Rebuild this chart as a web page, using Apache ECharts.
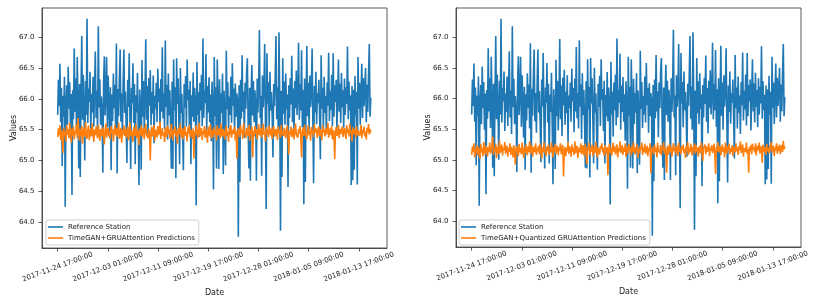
<!DOCTYPE html>
<html>
<head>
<meta charset="utf-8">
<script src="https://cdn.jsdelivr.net/npm/echarts@6/dist/echarts.min.js"></script>
<style>
html,body{margin:0;padding:0;background:#fff;}
#chart{width:831px;height:302px;}
</style>
</head>
<body>
<div id="chart"></div>
<script>
// Sampled every 3 hours starting at 2017-11-24 17:00:00
const STEP_HOURS = 3;
const tickHours = [0, 200, 400, 600, 800, 1000, 1200];
const tickLabels = ['2017-11-24 17:00:00','2017-12-03 01:00:00','2017-12-11 09:00:00','2017-12-19 17:00:00','2017-12-28 01:00:00','2018-01-05 09:00:00','2018-01-13 17:00:00'];
const yTicks = [64.0, 64.5, 65.0, 65.5, 66.0, 66.5, 67.0];
const seriesNames = ['Reference Station', 'TimeGAN+GRUAttention Predictions', 'TimeGAN+Quantized GRUAttention Predictions'];

const referenceStation = [
65.74,66.31,65.88,66.57,65.62,66.18,64.91,66.05,65.71,66.36,
64.25,65.93,66.22,65.58,66.52,65.84,66.27,65.49,66.08,64.44,
66.14,65.67,66.82,65.79,66.33,65.52,66.68,65.91,64.87,66.24,
64.73,66.12,67.02,65.66,66.39,65.83,65.00,66.29,65.74,67.30,
65.61,66.17,65.95,66.44,65.47,66.08,65.78,66.36,65.55,66.21,
66.77,65.69,66.13,65.42,67.18,65.86,66.32,65.58,66.04,65.81,
64.80,66.26,66.69,65.73,66.11,66.68,65.54,66.38,65.92,65.36,
66.19,64.84,66.07,65.64,66.41,65.85,66.23,65.51,66.90,64.79,
66.16,65.72,66.35,66.80,65.63,66.09,65.44,66.27,66.80,65.77,
66.12,65.58,64.96,66.31,65.87,66.74,65.69,64.86,66.18,65.93,
66.58,65.61,66.24,64.94,66.06,65.78,66.42,65.53,64.60,66.15,
65.82,64.85,66.63,65.71,66.29,65.48,66.03,66.97,65.66,66.21,
65.39,66.34,65.89,66.47,65.57,66.11,65.76,66.38,65.28,66.05,
65.84,66.26,65.62,66.49,65.95,66.17,65.45,66.32,65.79,66.84,
65.68,66.09,65.51,66.95,65.87,66.23,65.34,66.41,65.73,66.14,
65.59,64.87,66.28,64.86,66.64,65.82,66.19,64.71,66.66,65.92,
66.33,65.64,64.94,66.50,65.77,66.08,65.41,64.84,66.24,65.86,
66.37,65.55,66.64,65.98,66.15,65.47,66.29,64.94,66.06,65.71,
66.43,65.63,66.18,65.89,64.27,66.60,65.74,66.11,65.38,66.26,
65.81,66.39,65.56,66.98,65.69,66.14,65.93,66.73,65.49,66.21,
65.78,66.35,65.62,66.07,65.31,66.28,65.85,64.53,66.68,65.72,
66.19,64.87,66.64,65.94,64.86,66.32,65.58,66.09,65.77,66.41,
64.78,66.13,65.66,64.92,66.78,65.83,66.27,65.52,66.04,65.74,
66.36,65.61,66.58,65.89,66.17,65.44,66.25,65.71,66.09,65.96,
63.76,66.22,64.65,66.31,65.68,66.71,65.79,66.12,65.37,66.26,
65.84,66.43,66.66,65.57,64.87,66.18,64.67,66.07,66.55,65.73,
66.29,65.62,66.14,65.91,64.67,66.33,65.78,66.21,67.12,65.69,
66.05,64.75,66.38,65.86,66.16,66.89,65.64,64.21,66.74,65.92,
66.27,65.53,66.44,65.81,66.11,65.72,65.05,66.24,65.88,66.35,
67.02,65.67,66.19,65.49,67.08,65.97,63.86,66.13,64.73,66.66,
65.76,66.28,65.58,66.41,65.83,66.07,64.57,66.22,65.69,66.34,
65.91,66.70,65.62,66.17,65.43,66.29,65.85,66.46,65.74,66.09,
66.91,65.66,66.24,65.81,66.79,65.54,66.15,64.29,66.33,64.65,
66.02,66.86,65.72,66.26,65.49,66.38,65.87,66.12,66.82,65.63,
64.63,66.21,65.78,66.44,65.59,66.09,65.93,66.31,65.68,65.02,
66.71,65.84,66.18,65.51,66.36,65.77,66.05,65.42,66.27,65.89,
66.75,65.64,66.13,65.82,66.39,65.56,66.74,65.71,66.22,65.95,
66.31,65.48,66.08,66.64,65.79,66.25,65.61,66.42,65.86,66.14,
65.53,66.33,65.74,66.19,65.92,66.85,65.67,66.28,65.81,66.06,
64.60,66.21,64.68,66.15,64.85,66.37,65.73,66.11,64.61,66.68,
65.84,66.26,65.58,66.09,66.57,65.69,66.34,65.88,66.17,66.50,
65.62,66.23,65.79,66.41,66.89,65.71,66.02
];

const predGRUAttention = [
65.38,65.52,65.41,65.57,65.33,65.49,65.44,65.12,65.53,65.39,
65.47,65.31,65.58,65.42,65.50,65.36,65.61,65.44,65.29,65.52,
65.40,65.55,65.34,65.48,65.43,65.59,65.37,65.69,65.45,65.32,
65.51,65.40,65.56,65.27,65.46,65.53,65.38,65.62,65.42,65.35,
65.49,65.57,65.33,65.45,65.52,65.39,65.60,65.43,65.30,65.50,
65.41,65.55,65.46,65.36,65.58,65.44,65.32,65.51,65.47,65.39,
65.54,65.42,65.26,65.49,65.60,65.37,65.45,65.53,65.40,65.48,
65.34,65.56,65.43,65.50,65.31,65.47,65.58,65.41,65.52,65.38,
65.46,65.61,65.35,65.44,65.53,65.29,65.49,65.42,65.57,65.40,
65.51,65.37,65.47,65.55,65.33,65.45,65.62,65.39,65.48,65.43,
65.30,65.54,65.46,65.40,65.59,65.36,65.50,65.44,65.25,65.52,
65.41,65.57,65.38,65.47,65.53,65.34,65.49,65.60,65.42,65.45,
65.36,65.51,65.43,65.00,65.48,65.55,65.39,65.46,65.58,65.32,
65.50,65.44,65.37,65.56,65.41,65.49,65.63,65.35,65.47,65.52,
65.40,65.45,65.30,65.54,65.48,65.38,65.57,65.43,65.51,65.36,
65.46,65.59,65.41,65.33,65.50,65.44,65.55,65.39,65.48,65.27,
65.53,65.42,65.47,65.60,65.37,65.45,65.52,65.34,65.49,65.56,
65.40,65.46,65.31,65.54,65.43,65.58,65.38,65.50,65.45,65.35,
65.52,65.03,65.47,65.41,65.57,65.44,65.36,65.49,65.61,65.39,
65.46,65.53,65.33,65.48,65.42,65.56,65.37,65.51,65.44,65.29,
65.55,65.40,65.47,65.59,65.35,65.45,65.50,65.38,65.54,65.43,
65.48,65.32,65.57,65.41,65.46,65.52,65.36,65.60,65.44,65.39,
65.51,65.45,65.34,65.49,65.56,65.40,65.47,65.30,65.53,65.42,
65.58,65.37,65.46,65.50,65.43,65.55,65.33,65.48,65.03,65.41,
65.52,65.45,65.38,65.57,65.44,65.49,65.35,65.61,65.42,65.47,
65.36,65.53,65.46,65.40,65.58,65.32,65.50,65.44,65.55,65.05,
65.48,65.39,65.56,65.43,65.51,65.34,65.47,65.59,65.41,65.45,
65.53,65.37,65.49,65.60,65.42,65.46,65.31,65.54,65.44,65.50,
65.38,65.57,65.45,65.41,65.52,65.35,65.48,65.56,65.43,65.39,
65.51,65.46,65.33,65.55,65.44,65.49,65.37,65.58,65.42,65.47,
65.40,65.53,65.45,65.36,65.50,65.57,65.43,65.10,65.48,65.41,
65.55,65.38,65.46,65.52,65.34,65.49,65.60,65.42,65.45,65.37,
65.51,65.44,65.56,65.39,65.05,65.47,65.53,65.40,65.58,65.43,
65.46,65.35,65.50,65.57,65.41,65.48,65.32,65.54,65.44,65.49,
65.38,65.59,65.45,65.42,65.52,65.36,65.47,65.55,65.40,65.51,
65.44,65.33,65.57,65.46,65.50,65.39,65.53,65.43,65.48,65.61,
65.37,65.45,65.52,65.41,65.56,65.34,65.49,65.44,65.02,65.47,
65.54,65.40,65.46,65.58,65.36,65.51,65.43,65.49,65.55,65.38,
65.47,65.53,65.42,65.35,65.57,65.45,65.50,65.39,65.60,65.44,
65.48,65.31,65.54,65.43,65.51,65.46,65.37,65.56,65.41,65.49,
65.52,65.40,65.45,65.58,65.36,65.50,65.44,65.55,65.39,65.47,
65.34,65.53,65.46,65.59,65.42,65.51,65.45
];

const predQuantized = [
65.08,65.22,65.13,65.27,65.04,65.18,65.11,65.24,65.07,65.20,
65.15,65.02,65.26,65.12,65.19,65.06,65.29,65.14,65.09,65.23,
65.17,65.05,65.21,65.13,65.28,65.10,65.16,65.24,65.38,65.08,
65.19,65.14,65.26,65.03,65.18,65.22,65.09,65.31,65.12,65.16,
65.25,65.07,65.20,65.15,65.29,65.10,65.17,65.23,65.05,65.19,
65.13,65.27,65.08,65.21,65.16,65.04,65.24,65.11,64.92,65.18,
65.22,65.14,65.06,65.26,65.12,65.19,65.09,65.28,65.15,65.03,
65.20,65.11,65.25,65.17,65.07,65.22,65.13,65.30,65.10,65.18,
65.24,65.05,65.16,65.21,65.12,65.27,65.08,65.19,65.14,65.23,
65.09,65.26,65.15,65.02,65.20,65.13,65.29,65.11,65.17,65.06,
65.22,65.14,65.25,65.08,65.19,65.12,65.28,65.16,65.04,65.21,
65.13,65.26,65.10,65.18,65.23,65.07,65.20,65.15,65.27,65.09,
65.17,65.24,64.73,65.12,65.21,65.06,65.19,65.14,65.29,65.10,
65.22,65.16,65.05,65.25,65.13,65.19,65.08,65.30,65.11,65.18,
65.23,65.03,65.15,65.20,65.12,65.27,65.09,65.17,65.24,65.07,
65.14,65.26,65.10,64.93,65.21,65.16,65.28,65.08,65.19,65.13,
65.25,65.06,65.18,65.22,65.11,65.29,65.15,65.04,65.20,65.14,
65.09,65.23,65.17,65.27,65.12,65.19,65.06,65.24,65.15,65.10,
65.21,64.75,65.16,65.26,65.11,65.20,65.07,65.18,65.28,65.13,
65.22,65.09,65.17,65.25,65.04,65.19,65.14,65.30,65.11,65.16,
65.24,65.08,65.20,65.13,65.27,65.05,65.18,65.22,65.10,65.26,
65.15,65.19,65.07,65.23,65.12,65.29,65.16,65.09,65.21,65.14,
65.25,65.03,65.18,65.11,65.22,65.17,65.28,65.08,65.20,65.13,
65.26,65.10,65.16,65.23,65.06,65.19,65.14,65.27,64.78,65.12,
65.21,65.17,65.09,65.25,65.13,65.20,65.04,65.28,65.15,65.18,
65.11,65.24,65.07,65.22,65.16,65.29,65.10,65.19,65.13,64.79,
65.23,65.08,65.18,65.26,65.12,65.21,65.05,65.17,65.27,65.14,
65.19,65.10,65.24,65.15,65.06,65.28,65.13,65.20,65.09,65.22,
65.16,65.25,65.11,65.18,65.03,65.23,65.14,65.29,65.08,65.19,
65.12,65.26,65.17,65.07,65.21,65.15,65.27,65.10,65.24,65.13,
65.20,65.05,65.18,65.23,65.11,65.28,65.14,64.98,65.19,65.16,
65.25,65.09,65.22,65.13,65.17,65.27,65.06,65.20,65.15,65.24,
65.11,65.18,65.26,65.08,64.77,65.21,65.14,65.29,65.12,65.19,
65.23,65.07,65.17,65.25,65.13,65.20,65.04,65.28,65.16,65.10,
65.22,65.15,65.26,65.09,65.19,65.13,65.24,65.06,65.21,65.17,
65.12,65.27,65.14,65.20,65.08,65.23,65.16,65.30,65.11,65.18,
65.25,65.05,65.19,65.22,65.13,65.28,65.10,65.17,64.79,65.21,
65.14,65.24,65.09,65.26,65.16,65.20,65.12,65.27,65.07,65.19,
65.23,65.15,65.28,65.10,65.18,65.22,64.95,65.25,65.13,65.17,
65.21,65.08,65.26,65.14,65.19,65.11,65.24,65.16,65.29,65.12,
65.18,65.23,65.06,65.20,65.15,65.27,65.10,65.22,65.14,65.25,
65.09,65.19,65.24,65.13,65.31,65.17,65.22
];

function toPairs(arr) { return arr.map((v, i) => [i * STEP_HOURS, v]); }

const FONT = 'DejaVu Sans';
const TXT = '#222';
const AX = '#333';
const BLUE = '#1f77b4';
const ORANGE = '#ff7f0e';

function xAxisCfg(gi) {
  return {
    type: 'value', gridIndex: gi, min: -62.5, max: 1312.5,
    name: 'Date', nameLocation: 'middle', nameGap: 41, nameMoveOverlap: false,
    nameTextStyle: { fontFamily: FONT, fontSize: 8, color: TXT },
    splitLine: { show: false },
    axisLine: { show: true, onZero: false, lineStyle: { color: AX, width: 0.8 } },
    axisTick: { show: true, length: 3.5, lineStyle: { color: AX, width: 0.8 }, customValues: tickHours },
    axisLabel: {
      customValues: tickHours, rotate: 20, align: 'center', verticalAlign: 'middle', margin: 19,
      fontFamily: FONT, fontSize: 7, color: TXT,
      formatter: v => { const k = tickHours.indexOf(v); return k >= 0 ? tickLabels[k] : ''; }
    }
  };
}
function yAxisCfg(gi) {
  return {
    type: 'value', gridIndex: gi, min: 63.578, max: 67.476,
    name: 'Values', nameLocation: 'middle', nameGap: 24, nameMoveOverlap: false,
    nameTextStyle: { fontFamily: FONT, fontSize: 8, color: TXT },
    splitLine: { show: false },
    axisLine: { show: true, onZero: false, lineStyle: { color: AX, width: 0.8 } },
    axisTick: { show: true, length: 3.5, lineStyle: { color: AX, width: 0.8 }, customValues: yTicks },
    axisLabel: { customValues: yTicks, margin: 7.5, fontFamily: FONT, fontSize: 7, color: TXT, formatter: v => v.toFixed(1) }
  };
}
function lineSeries(name, data, color, gi, z, w) {
  return {
    type: 'line', name: name, xAxisIndex: gi, yAxisIndex: gi,
    data: toPairs(data), symbol: 'none', showSymbol: false, sampling: null,
    lineStyle: { color: color, width: w }, itemStyle: { color: color },
    z: z, animation: false, silent: true
  };
}
function legendCfg(left, names) {
  return {
    data: names.map(n => ({ name: n, icon: 'rect' })), orient: 'vertical', left: left, top: 220,
    itemWidth: 15, itemHeight: 1.6, itemGap: 3,
    padding: [3, 4, 3, 2],
    borderColor: '#d0d0d0', borderWidth: 1, borderRadius: 2,
    backgroundColor: 'rgba(255,255,255,0.8)',
    textStyle: { fontFamily: FONT, fontSize: 7, color: TXT, lineHeight: 8 },
    selectedMode: false
  };
}

const chart = echarts.init(document.getElementById('chart'), null, { renderer: 'canvas' });
chart.setOption({
  animation: false,
  backgroundColor: '#fff',
  grid: [
    { left: 42, top: 8, width: 345, height: 240, show: true, borderColor: AX, borderWidth: 0.8, containLabel: false },
    { left: 456, top: 8, width: 345, height: 239, show: true, borderColor: AX, borderWidth: 0.8, containLabel: false }
  ],
  xAxis: [xAxisCfg(0), xAxisCfg(1)],
  yAxis: [yAxisCfg(0), yAxisCfg(1)],
  legend: [
    legendCfg(46, [seriesNames[0], seriesNames[1]]),
    legendCfg(459, [seriesNames[0], seriesNames[2]])
  ],
  series: [
    lineSeries(seriesNames[0], referenceStation, BLUE, 0, 2, 1.6),
    lineSeries(seriesNames[1], predGRUAttention, ORANGE, 0, 3, 1.6),
    lineSeries(seriesNames[0], referenceStation, BLUE, 1, 2, 1.6),
    lineSeries(seriesNames[2], predQuantized, ORANGE, 1, 3, 1.6)
  ]
});
</script>
</body>
</html>
